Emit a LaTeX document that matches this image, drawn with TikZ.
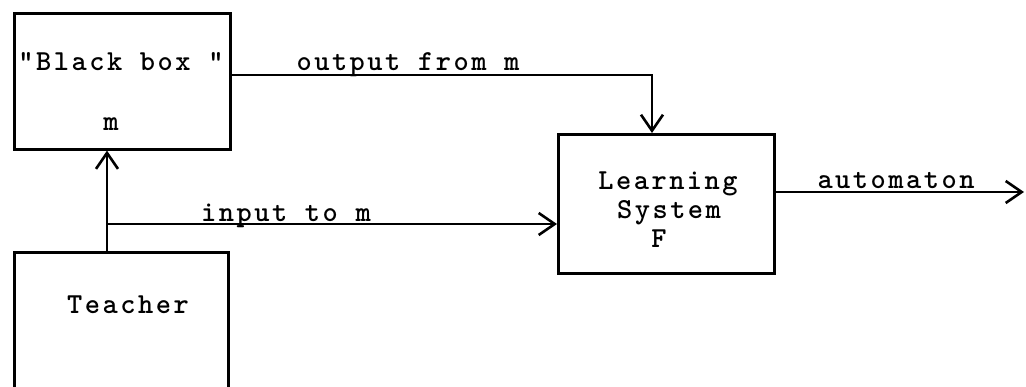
\documentclass[tikz,border=0pt]{standalone}
\usepackage{fontspec}
\usetikzlibrary{arrows.meta}
\newfontfamily\typewriterfont{lmmonolt10-bold.otf}[LetterSpace=8.6]
\newcommand{\typewriter}{\typewriterfont\fontsize{29}{29}\selectfont}
\begin{document}
\begin{tikzpicture}[x=1pt,y=-1pt,line width=2.6pt,
  lbl/.style={font=\typewriter,inner sep=0pt,anchor=base},
  blk/.style={draw,line width=2.6pt,inner sep=0pt,anchor=north west},
  arr/.style={-{Straight Barb[length=16pt,width=22pt]}}]
  % page frame
  \useasboundingbox (0,0) rectangle (1026,386);
  \fill[white] (0,0) rectangle (1026,386);
  \clip (0,0) rectangle (1026,386);

  % blocks
  \node[blk,minimum width=216pt,minimum height=136pt] (bb) at (13,12) {};
  \node[blk,minimum width=214pt,minimum height=170pt] (teacher) at (13,251) {};
  \node[blk,minimum width=216pt,minimum height=139pt] (ls) at (557,133) {};

  % block texts
  \node[lbl] (bbt) at (121,70) {"Black box "};
  \node[lbl] (bbm) at (111,130) {m};
  \node[lbl] (tt) at (128,313) {Teacher};
  \node[lbl] (ls1) at (668,189) {Learning};
  \node[lbl] (ls2) at (669,218) {System};
  \node[lbl] (ls3) at (659,247) {F};

  % connector labels
  \node[lbl] (inl) at (286,221) {input to m};
  \node[lbl] (outl) at (408,70) {output from m};
  \node[lbl] (autl) at (896,188) {automaton};

  % connectors
  \coordinate (tap) at (107,251);
  \coordinate (split) at (107,224);
  \coordinate (bend) at (652,75);
  \coordinate (aend) at (1024,192);
  \draw[arr] (tap) -- (tap |- bb.south);
  \draw[arr] (split) -- (split -| ls.west);
  \draw[arr] (bb.east |- bend) -- (bend) -- (bend |- ls.north);
  \draw[arr] (ls.east |- aend) -- (aend);
\end{tikzpicture}
\end{document}
